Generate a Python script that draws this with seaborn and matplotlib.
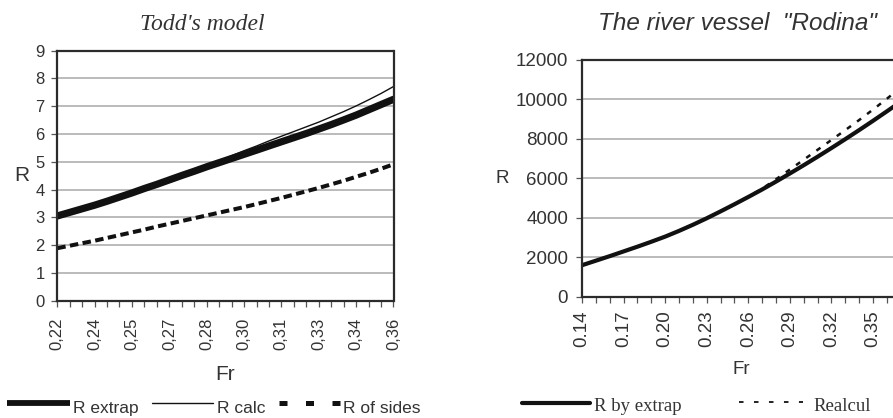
import matplotlib
matplotlib.use("Agg")
import matplotlib.pyplot as plt
from matplotlib.lines import Line2D
import numpy as np
import pandas as pd
import seaborn as sns

sns.set_style("white")
plt.rcParams["font.family"] = ["Liberation Sans", "DejaVu Sans"]

# ---- Todd's model (left) ----
todd_fr = [0.2200, 0.2252, 0.2304, 0.2356, 0.2407, 0.2459, 0.2511, 0.2563,
           0.2615, 0.2667, 0.2719, 0.2770, 0.2822, 0.2874, 0.2926, 0.2978,
           0.3030, 0.3081, 0.3133, 0.3185, 0.3237, 0.3289, 0.3341, 0.3393,
           0.3444, 0.3496, 0.3548, 0.3600]
todd_extrap = [3.05, 3.18, 3.31, 3.44, 3.58, 3.73, 3.88, 4.04, 4.19, 4.35,
               4.51, 4.66, 4.82, 4.97, 5.12, 5.27, 5.42, 5.57, 5.72, 5.87,
               6.02, 6.18, 6.34, 6.51, 6.68, 6.87, 7.06, 7.25]
todd_calc = [3.05, 3.18, 3.31, 3.44, 3.58, 3.73, 3.88, 4.04, 4.19, 4.35,
             4.51, 4.68, 4.86, 5.04, 5.22, 5.40, 5.57, 5.75, 5.92, 6.09,
             6.26, 6.43, 6.62, 6.81, 7.01, 7.23, 7.46, 7.71]
todd_sides = [1.89, 1.98, 2.07, 2.16, 2.26, 2.36, 2.46, 2.56, 2.67, 2.77,
              2.87, 2.97, 3.07, 3.17, 3.27, 3.37, 3.48, 3.59, 3.70, 3.82,
              3.94, 4.06, 4.19, 4.32, 4.46, 4.60, 4.75, 4.91]
todd_ticklabels = ["0,22", "0,24", "0,25", "0,27", "0,28",
                   "0,30", "0,31", "0,33", "0,34", "0,36"]

# ---- river vessel "Rodina" (right) ----
rodina_fr = [0.14, 0.15, 0.16, 0.17, 0.18, 0.19, 0.20, 0.21, 0.22, 0.23,
             0.24, 0.25, 0.26, 0.27, 0.28, 0.29, 0.30, 0.31, 0.32, 0.33,
             0.34, 0.35, 0.36, 0.37]
rodina_extrap = [1600, 1830, 2060, 2300, 2540, 2790, 3050, 3340, 3650, 3980,
                 4330, 4690, 5060, 5440, 5840, 6250, 6670, 7100, 7540, 7990,
                 8450, 8920, 9400, 9890]
rodina_calc = [1600, 1830, 2060, 2300, 2540, 2790, 3050, 3340, 3650, 3980,
               4330, 4690, 5070, 5480, 5960, 6450, 6950, 7450, 7950, 8450,
               8960, 9490, 10040, 10600]
rodina_ticklabels = ["0.14", "0.17", "0.20", "0.23", "0.26", "0.29", "0.32", "0.35"]

W, H = 893, 418
fig = plt.figure(figsize=(W / 100, H / 100), dpi=100)

TXT = "#333333"
INK = "#111111"


def px(x, y):
    return x / W, 1 - y / H


def style_axes(ax, ymax, ystep, size):
    ax.set_ylim(0, ymax)
    ax.set_yticks(np.arange(0, ymax + 1, ystep))
    ax.yaxis.grid(True, color="#a8a8a8", lw=1.1)
    ax.xaxis.grid(False)
    ax.set_axisbelow(True)
    for s in ax.spines.values():
        s.set_color("#2b2b2b")
        s.set_linewidth(1.6)
    ax.tick_params(axis="both", direction="out", length=4, width=0.9,
                   color="#555555", labelsize=size, labelcolor=TXT,
                   bottom=True, left=True)
    ax.tick_params(axis="y", pad=5)
    ax.tick_params(axis="x", pad=8)


# left panel
ax1 = fig.add_axes([57.3 / W, 1 - 300.7 / H, 336.2 / W, 250 / H])
df1 = pd.DataFrame({"Fr": todd_fr, "extrap": todd_extrap,
                    "calc": todd_calc, "sides": todd_sides})
sns.lineplot(data=df1, x="Fr", y="extrap", ax=ax1, color=INK, lw=5.2)
sns.lineplot(data=df1, x="Fr", y="calc", ax=ax1, color=INK, lw=1.0)
sns.lineplot(data=df1, x="Fr", y="sides", ax=ax1, color=INK, lw=2.9,
             linestyle=(0, (2.1, 1.1)))
ax1.set_xlim(todd_fr[0], todd_fr[-1])
style_axes(ax1, 9, 1, 12)
ax1.set_xticks(todd_fr)
ax1.set_xticklabels([todd_ticklabels[i // 3] if i % 3 == 0 else ""
                     for i in range(len(todd_fr))], rotation=90)
ax1.set_xlabel("Fr", fontsize=15, color=TXT, labelpad=11)
ax1.set_ylabel("R", fontsize=15, color=TXT, rotation=0, va="center", labelpad=10)

# right panel (runs off the right edge, as in the original)
ax2 = fig.add_axes([582 / W, 1 - 296.8 / H, 318.8 / W, 236.8 / H])
df2 = pd.DataFrame({"Fr": rodina_fr, "extrap": rodina_extrap, "calc": rodina_calc})
sns.lineplot(data=df2, x="Fr", y="extrap", ax=ax2, color=INK, lw=3.0)
sns.lineplot(data=df2, x="Fr", y="calc", ax=ax2, color=INK, lw=1.8,
             linestyle=(0, (2.0, 3.0)))
ax2.set_xlim(rodina_fr[0], rodina_fr[-1])
style_axes(ax2, 12000, 2000, 13.5)
ax2.set_xticks(rodina_fr)
ax2.set_xticklabels([rodina_ticklabels[i // 3] if i % 3 == 0 and i // 3 < len(rodina_ticklabels) else ""
                     for i in range(len(rodina_fr))], rotation=90)
ax2.tick_params(axis="x", pad=6)
ax2.tick_params(axis="y", pad=6)
ax2.set_xlabel("Fr", fontsize=13.5, color=TXT, labelpad=10)
ax2.set_ylabel("R", fontsize=13.5, color=TXT, rotation=0, va="center", labelpad=10)

# titles
fig.text(*px(202, 24), "Todd's model", ha="center", va="center", fontsize=17,
         style="italic", color=TXT, family=["Liberation Serif", "DejaVu Serif"])
fig.text(*px(737, 23), "The river vessel  \"Rodina\"", ha="center", va="center",
         fontsize=17.5, style="italic", color=TXT)


# legends below the panels
def legend_item(x0, x1, y, text, tx, ty, size, family=None, **line_kw):
    fig.add_artist(Line2D([x0 / W, x1 / W], [1 - y / H, 1 - y / H],
                          transform=fig.transFigure, color=INK, **line_kw))
    kw = {"family": family} if family else {}
    fig.text(tx / W, 1 - ty / H, text, ha="left", va="baseline",
             fontsize=size, color=TXT, **kw)


legend_item(7, 70, 403, "R extrap", 73, 413, 12.5, lw=4.2, solid_capstyle="butt")
legend_item(152, 213, 403, "R calc", 217, 413, 12.5, lw=1.0)
legend_item(279, 340, 403, "R of sides", 343, 413, 12.5, lw=3.6,
            linestyle=(0, (1.6, 3.7)))
serif = ["Liberation Serif", "DejaVu Serif"]
legend_item(522, 590, 403, "R by extrap", 594, 411, 13.5, family=serif, lw=3.0)
legend_item(739, 803, 402, "Realcul", 813, 411, 13.5, family=serif, lw=1.3,
            linestyle=(0, (2.5, 5.8)))

fig.savefig("out.png", dpi=100)
